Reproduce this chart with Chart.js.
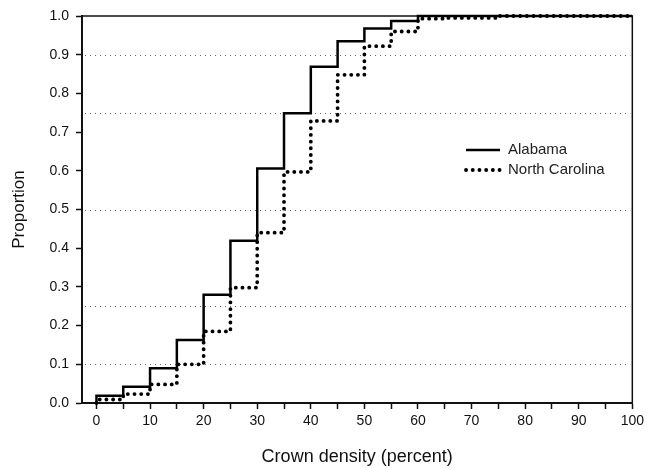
<!DOCTYPE html>
<html>
<head>
<meta charset="utf-8">
<script src="https://cdn.jsdelivr.net/npm/chart.js@4"></script>
<style>
  html, body { margin: 0; padding: 0; background: #fff; }
  #wrap { width: 648px; height: 468px; }
</style>
</head>
<body>
<div id="wrap"><canvas id="c" width="648" height="468"></canvas></div>
<script>
/* Crown density cumulative distributions */
const densities = [0, 5, 10, 15, 20, 25, 30, 35, 40, 45, 50, 55, 60, 65, 70, 75, 80, 85, 90, 95, 100];
const alabama = [0.019, 0.042, 0.09, 0.163, 0.28, 0.419, 0.606, 0.749, 0.869, 0.935, 0.968, 0.987, 1, 1, 1, 1, 1, 1, 1, 1, 1];
const northCarolina = [0.009, 0.023, 0.048, 0.10, 0.185, 0.298, 0.44, 0.597, 0.729, 0.848, 0.922, 0.96, 0.993, 0.995, 0.995, 1, 1, 1, 1, 1, 1];
const xTicks = [0, 5, 10, 15, 20, 25, 30, 35, 40, 45, 50, 55, 60, 65, 70, 75, 80, 85, 90, 95, 100];
const yTicks = [0, 0.1, 0.2, 0.3, 0.4, 0.5, 0.6, 0.7, 0.8, 0.9, 1.0];
const refLines = [0.1, 0.25, 0.5, 0.75, 0.9];

const FONT = "'Liberation Sans', Arial, sans-serif";
const pts = (ys) => [{ x: 0, y: 0 }].concat(densities.map((x, i) => ({ x, y: ys[i] })));

/* dotted reference lines + frame + inset legend */
const frame = {
  id: "frame",
  beforeDatasetsDraw(chart) {
    const { ctx, chartArea: a, scales: { y } } = chart;
    ctx.save();
    ctx.strokeStyle = "#666";
    ctx.lineWidth = 1;
    ctx.setLineDash([1, 4]);
    refLines.forEach((v) => {
      const py = Math.round(y.getPixelForValue(v)) + 0.5;
      ctx.beginPath(); ctx.moveTo(a.left + 3, py); ctx.lineTo(a.right - 2, py); ctx.stroke();
    });
    ctx.setLineDash([]);
    ctx.strokeStyle = "#111";
    ctx.lineWidth = 1.5;
    ctx.beginPath();
    ctx.moveTo(a.left, a.top); ctx.lineTo(a.right, a.top); ctx.lineTo(a.right, a.bottom);
    ctx.stroke();
    ctx.restore();
  },
  afterDatasetsDraw(chart) {
    const { ctx } = chart;
    ctx.save();
    ctx.font = "15px " + FONT;
    ctx.fillStyle = "#222";
    ctx.textBaseline = "middle";
    chart.data.datasets.forEach((ds, i) => {
      const yy = 150 + i * 20;
      ctx.strokeStyle = ds.borderColor;
      ctx.lineWidth = ds.borderWidth;
      ctx.lineCap = ds.borderCapStyle || "butt";
      ctx.setLineDash(ds.borderDash || []);
      ctx.beginPath(); ctx.moveTo(466, yy); ctx.lineTo(500, yy); ctx.stroke();
      ctx.setLineDash([]);
      ctx.fillText(ds.label, 508, yy);
    });
    ctx.restore();
  }
};

new Chart(document.getElementById("c"), {
  type: "line",
  data: {
    datasets: [
      { label: "Alabama", data: pts(alabama), borderColor: "#000", borderWidth: 2.5, stepped: "before", pointRadius: 0, clip: 4 },
      { label: "North Carolina", data: pts(northCarolina), borderColor: "#000", borderWidth: 3.8, borderDash: [0.1, 6.6], borderCapStyle: "round", stepped: "before", pointRadius: 0, clip: 4 },
    ],
  },
  options: {
    responsive: false,
    animation: false,
    layout: { padding: { left: 0, right: 14, top: 16, bottom: 0 } },
    plugins: { legend: { display: false }, tooltip: { enabled: false } },
    scales: {
      x: {
        type: "linear", min: -2.7, max: 100,
        afterBuildTicks: (s) => { s.ticks = xTicks.map((v) => ({ value: v })); },
        afterFit: (s) => { s.height = 65; },
        ticks: { color: "#111", font: { family: FONT, size: 14 }, padding: 4, maxRotation: 0, autoSkip: false,
                 callback: (v) => (v % 10 === 0 ? String(v) : "") },
        grid: { drawOnChartArea: false, tickLength: 6, tickColor: "#111", tickWidth: 1.5 },
        border: { color: "#111", width: 2 },
        title: { display: true, text: "Crown density (percent)", color: "#111", font: { family: FONT, size: 18 }, padding: { top: 1, bottom: 0 } },
      },
      y: {
        min: 0, max: 1,
        afterBuildTicks: (s) => { s.ticks = yTicks.map((v) => ({ value: v })); },
        afterFit: (s) => { s.width = 82; },
        ticks: { color: "#111", font: { family: FONT, size: 14 }, padding: 7, callback: (v) => v.toFixed(1) },
        grid: { drawOnChartArea: false, tickLength: 6, tickColor: "#111", tickWidth: 1.5 },
        border: { color: "#111", width: 2 },
        title: { display: true, text: "Proportion", color: "#111", font: { family: FONT, size: 17 }, padding: { top: 9, bottom: 0 } },
      },
    },
  },
  plugins: [frame],
});
</script>
</body>
</html>
